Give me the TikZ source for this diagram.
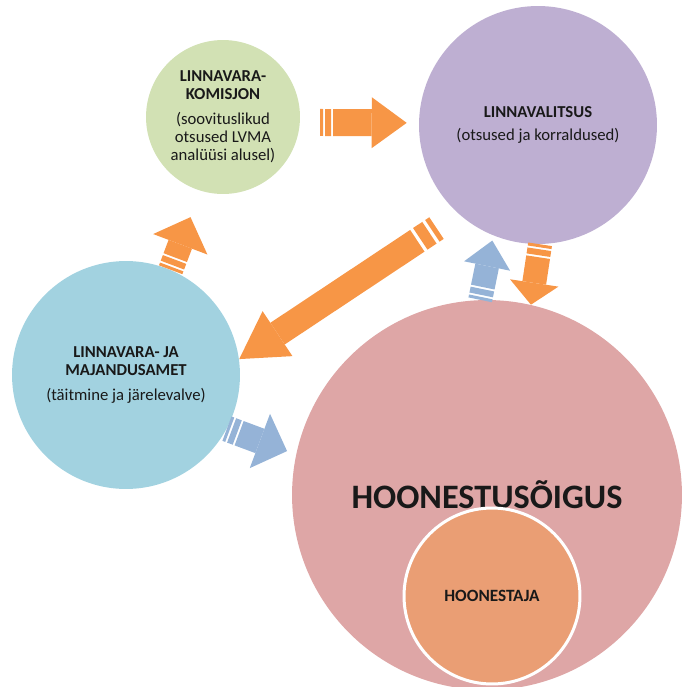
\documentclass[tikz,border=0pt]{standalone}
\usepackage{fontspec}
\setmainfont{Carlito}
\usepackage{tikz}
\usetikzlibrary{arrows.meta}
\definecolor{komisjonGreen}{RGB}{210,225,180}
\definecolor{valitsusLilla}{RGB}{190,175,210}
\definecolor{ametBlue}{RGB}{162,210,224}
\definecolor{oigusRose}{RGB}{222,166,166}
\definecolor{hoonestajaOrange}{RGB}{234,158,116}
\definecolor{noolOrange}{RGB}{247,150,70}
\definecolor{noolBlue}{RGB}{149,179,215}

\begin{document}
\begin{tikzpicture}[
        x=0.02cm, y=-0.02cm,
        ring/.style={circle, inner sep=0pt, align=center, text=black!90, font=\fontsize{9.5}{10.3}\selectfont},
        nool/.style n args={4}{draw=#1, line width=#2, -{Triangle[width=#3, length=#4, line width=0pt]},
            dash pattern=on 0.06cm off 0.04cm on 0.12cm off 0.04cm on 30cm off 1cm}
    ]
    \useasboundingbox (0,0) rectangle (683,687);

    % Ringid
    \node[ring, fill=komisjonGreen, minimum size=3.08cm] (komisjon) at (223,117)
        {\textbf{LINNAVARA-}\\\textbf{KOMISJON}\\[4pt](soovituslikud\\otsused LVMA\\analüüsi alusel)};
    \node[ring, fill=valitsusLilla, minimum size=4.76cm] (valitsus) at (538,125)
        {\textbf{LINNAVALITSUS}\\[3pt](otsused ja korraldused)};
    \node[ring, fill=ametBlue, minimum size=4.56cm] (amet) at (126,375)
        {\textbf{LINNAVARA- JA}\\\textbf{MAJANDUSAMET}\\[3.5pt](täitmine ja järelevalve)};
    \node[ring, fill=oigusRose, minimum size=7.8cm, font=\fontsize{19.5}{21}\selectfont\bfseries] (oigus) at (487,495)
        {HOONESTUSÕIGUS};
    \node[ring, fill=hoonestajaOrange, draw=white, line width=0.06cm, minimum size=3.52cm, font=\fontsize{9.8}{11}\selectfont\bfseries] (hoonestaja) at (492,596)
        {HOONESTAJA};

    % Nooled
    \draw[nool={noolOrange}{0.54cm}{1.02cm}{0.7cm}, shorten <=0.4cm, shorten >=0.24cm] (komisjon.-4) -- (valitsus.179);
    \draw[nool={noolOrange}{0.5cm}{1.16cm}{0.58cm}, shorten >=0.56cm] (amet.67) -- (komisjon.253);
    \draw[nool={noolOrange}{0.52cm}{1.08cm}{0.92cm}, shorten <=0.52cm,
        dash pattern=on 0.1cm off 0.07cm on 0.22cm off 0.07cm on 30cm off 1cm] (valitsus.228) -- (amet.8);
    \draw[nool={noolBlue}{0.48cm}{0.94cm}{0.52cm}, shorten >=0.1cm] (oigus.92) -- (valitsus.248);
    \draw[nool={noolOrange}{0.48cm}{0.98cm}{0.44cm}] (valitsus.271) -- (oigus.77);
    \draw[nool={noolBlue}{0.52cm}{1.16cm}{0.58cm}, shorten >=0.19cm] (amet.-28) -- (oigus.168);

\end{tikzpicture}
\end{document}
